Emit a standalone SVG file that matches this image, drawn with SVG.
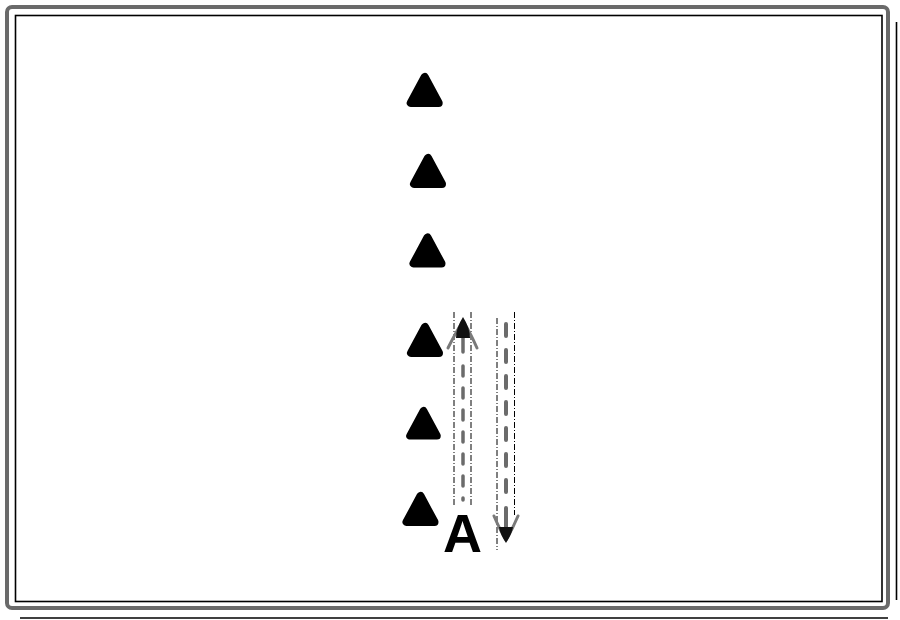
<svg xmlns="http://www.w3.org/2000/svg" xmlns:xlink="http://www.w3.org/1999/xlink" width="900" height="620" viewBox="0 0 900 620">
<style>
.tri{fill:#000;stroke:#000;stroke-width:8;stroke-linejoin:round}
.frame{fill:none;stroke:#6a6a6a;stroke-width:4}
.edge{fill:none;stroke:#000;stroke-width:1.6}
.shaft{fill:none;stroke:#6b6b6b;stroke-linecap:round}
.barb{fill:none;stroke:#7a7a7a;stroke-width:3;stroke-linecap:round;stroke-linejoin:round}
.tip{fill:#111}
.guide{fill:none;stroke:#000;stroke-width:1;stroke-dasharray:6 2 1 2}
.lbl{font-family:"Liberation Sans",Arial,sans-serif;font-weight:bold;font-size:54px;fill:#000}
</style>
<defs>
<polygon id="tri" points="0,5 -14,31 14,31"/>
</defs>
<rect width="900" height="620" fill="#fff"/>
<g id="frame">
<rect class="frame" x="7" y="7" width="881" height="601" rx="5"/>
<rect class="edge" x="15.5" y="15.5" width="866.5" height="586"/>
<line class="edge" x1="20" y1="618" x2="888" y2="618"/>
<line class="edge" x1="896.5" y1="22" x2="896.5" y2="600"/>
</g>
<g id="node-t1"><use xlink:href="#tri" href="#tri" class="tri" x="424.7" y="72"/></g>
<g id="node-t2"><use xlink:href="#tri" href="#tri" class="tri" x="428" y="153"/></g>
<g id="node-t3"><use xlink:href="#tri" href="#tri" class="tri" x="427.5" y="232.5"/></g>
<g id="node-t4"><use xlink:href="#tri" href="#tri" class="tri" x="425" y="322"/></g>
<g id="node-t5"><use xlink:href="#tri" href="#tri" class="tri" x="423.5" y="406" transform="translate(423.5 406) scale(0.96) translate(-423.5 -406)"/></g>
<g id="node-t6"><use xlink:href="#tri" href="#tri" class="tri" x="420.5" y="491"/></g>
<g id="node-A"><text class="lbl" x="462.5" y="552" text-anchor="middle">A</text></g>
<g id="connectors">
<g id="arrow-up">
<line class="guide" x1="454" y1="312" x2="454" y2="505"/>
<line class="guide" x1="471" y1="312" x2="471" y2="505"/>
<line class="shaft" x1="463" y1="336" x2="463" y2="352" stroke-width="3.5"/>
<line class="shaft" x1="463" y1="366" x2="463" y2="500" stroke-width="3.5" stroke-dasharray="10 12"/>
<path class="barb" d="M448,348 Q456,332 463,321 Q470,332 477,348"/>
<path class="tip" d="M463,317 Q470,328 470,338 L456,338 Q456,328 463,317 Z"/>
</g>
<g id="arrow-down">
<line class="guide" x1="497" y1="318" x2="497" y2="550"/>
<line class="guide" x1="514.5" y1="312" x2="514.5" y2="515"/>
<line class="shaft" x1="506" y1="324" x2="506" y2="506" stroke-width="4" stroke-dasharray="12 14"/>
<line class="shaft" x1="506" y1="508" x2="506" y2="530" stroke-width="4"/>
<path class="barb" d="M494,516 Q500,530 506,540 Q512,530 518,516"/>
<path class="tip" d="M506,543 Q500,534 499,527 L513,527 Q512,534 506,543 Z"/>
</g>
</g>
</svg>
